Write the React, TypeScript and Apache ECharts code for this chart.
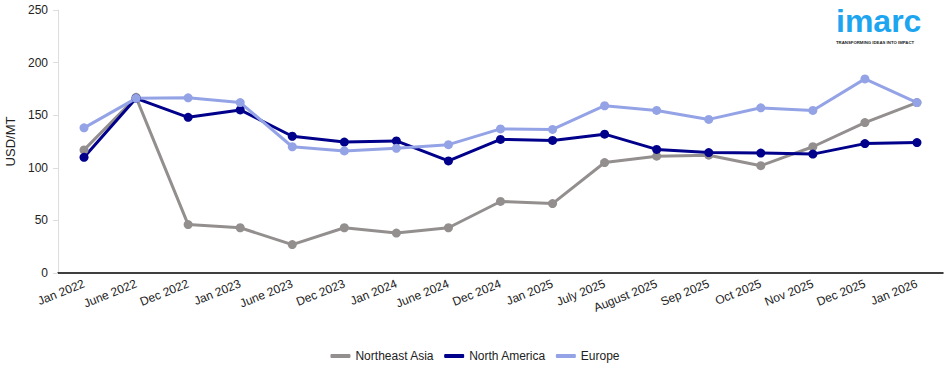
import React, { useEffect, useRef } from "react";
import * as echarts from "echarts";

const categories = [
  "Jan 2022", "June 2022", "Dec 2022", "Jan 2023", "June 2023", "Dec 2023",
  "Jan 2024", "June 2024", "Dec 2024", "Jan 2025", "July 2025", "August 2025",
  "Sep 2025", "Oct 2025", "Nov 2025", "Dec 2025", "Jan 2026",
];
const northeastAsia = [117, 167, 46, 43, 27, 43, 38, 43, 68, 66, 105, 111, 112, 102, 120, 143, 162];
const northAmerica = [110, 166, 148, 155, 130, 124.5, 125.5, 106.5, 127, 126, 132, 117.5, 114.5, 114, 113, 123, 124];
const europe = [138, 166, 166.5, 162, 120, 116, 118.5, 122, 137, 136.5, 159, 154.5, 146, 157, 154.5, 184.5, 162];
const yTicks = { min: 0, max: 250, interval: 50 };

export default function App() {
  const ref = useRef<HTMLDivElement>(null);
  useEffect(() => {
    if (!ref.current) return;
    const chart = echarts.init(ref.current, undefined, { renderer: "svg" });
    const font = "Liberation Sans, Arial, sans-serif";
    const mk = (name: string, data: number[], color: string) => ({
      name,
      type: "line",
      data,
      symbol: "circle",
      symbolSize: 9,
      lineStyle: { width: 3, color },
      itemStyle: { color },
    });
    chart.setOption({
      animation: false,
      textStyle: { fontFamily: font },
      grid: { left: 58, right: 7, top: 10, bottom: 100, containLabel: false, outerBoundsMode: "none" },
      xAxis: {
        type: "category",
        data: categories,
        boundaryGap: true,
        axisLine: { lineStyle: { color: "#000", width: 1.5 } },
        axisTick: { alignWithLabel: true, lineStyle: { color: "#000" }, length: 6 },
        axisLabel: { rotate: 22, color: "#222", fontSize: 12, fontFamily: font, interval: 0, margin: 10 },
        splitLine: { show: false },
      },
      yAxis: {
        type: "value",
        min: yTicks.min,
        max: yTicks.max,
        interval: yTicks.interval,
        name: "USD/MT",
        nameLocation: "middle",
        nameGap: 40,
        nameTextStyle: { color: "#222", fontSize: 13, fontFamily: font },
        axisLine: { show: true, lineStyle: { color: "#ddd" } },
        axisTick: { show: true, lineStyle: { color: "#ddd" }, length: 5 },
        axisLabel: { color: "#222", fontSize: 12, fontFamily: font, margin: 10 },
        splitLine: { show: false },
      },
      legend: {
        bottom: 6,
        left: "center",
        icon: "roundRect",
        itemWidth: 20,
        itemHeight: 4,
        itemGap: 10,
        textStyle: { color: "#222", fontSize: 12, fontFamily: font },
        data: ["Northeast Asia", "North America", "Europe"],
      },
      graphic: [
        {
          type: "text",
          left: 836,
          top: 5,
          style: { text: "imarc", fontSize: 32, lineHeight: 32, fontWeight: "bold", fill: "#1ea5f0", fontFamily: "Liberation Sans, Arial, sans-serif" },
        },
        {
          type: "text",
          left: 836,
          top: 40,
          style: { text: "TRANSFORMING IDEAS INTO IMPACT", fontSize: 4.3, fontWeight: "bold", fill: "#222", fontFamily: font },
        },
      ],
      series: [
        mk("Northeast Asia", northeastAsia, "#948f8f"),
        mk("North America", northAmerica, "#00008b"),
        mk("Europe", europe, "#94a3e6"),
      ],
    });
    return () => chart.dispose();
  }, []);
  return <div ref={ref} style={{ position: "absolute", left: 0, top: 0, width: 950, height: 373 }} />;
}
